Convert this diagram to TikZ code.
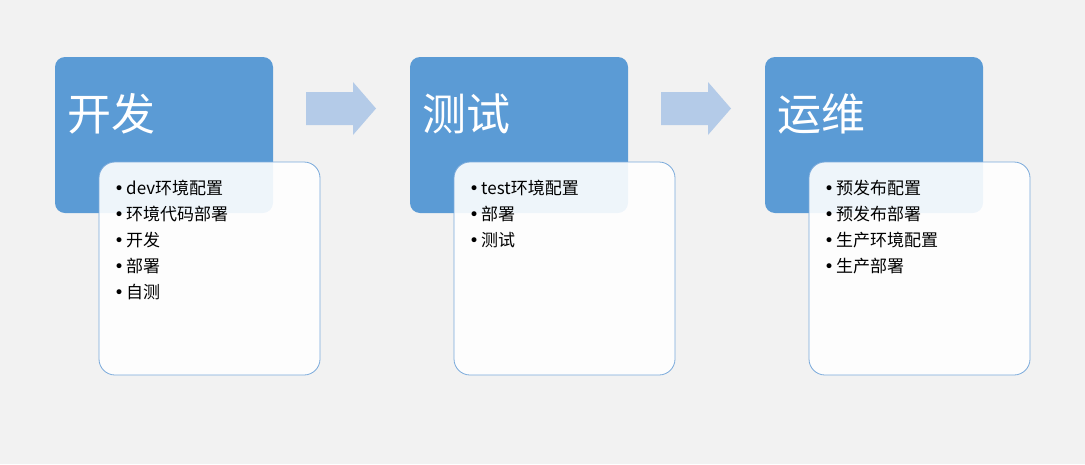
\documentclass[tikz,border=0pt]{standalone}
\usepackage{fontspec}
\setmainfont{Noto Sans CJK SC}
\newfontfamily\dvs{DejaVu Sans}
\newcommand{\bl}{{\dvs •}\hspace{2pt}}
\definecolor{bg}{HTML}{F2F2F2}
\definecolor{blu}{HTML}{5B9BD5}
\definecolor{arr}{HTML}{B4CBE8}
\definecolor{bord}{HTML}{7AAADB}
\begin{document}
\begin{tikzpicture}[x=1pt,y=-1pt,
  head/.style={fill=blu,rounded corners=10pt},
  card/.style={fill=white,fill opacity=0.9,draw=bord,line width=0.8pt,rounded corners=16pt},
  ttl/.style={anchor=west,text=white,font=\fontsize{44}{44}\selectfont},
  lst/.style={anchor=north west,align=left,font=\fontsize{17}{26}\selectfont,inner sep=0pt},
  arrw/.style={fill=arr}]
\fill[bg] (0,0) rectangle (1085,464);
\useasboundingbox (0,0) rectangle (1085,464);
\foreach \dx/\t in {0/开发,355/测试,710/运维}{
  \fill[head] (55+\dx,57) rectangle (273+\dx,213);
  \node[ttl] (t\dx) at (64+\dx,114) {\t};
}
\draw[card] (99,162) rectangle (320,375);
\draw[card] (454,162) rectangle (675,375);
\draw[card] (809,162) rectangle (1030,375);
\node[lst] (l1) at (114,180) {\bl dev环境配置\\\bl 环境代码部署\\\bl 开发\\\bl 部署\\\bl 自测};
\node[lst] (l2) at (469,180) {\bl test环境配置\\\bl 部署\\\bl 测试};
\node[lst] (l3) at (824,180) {\bl 预发布配置\\\bl 预发布部署\\\bl 生产环境配置\\\bl 生产部署};
\foreach \dx in {0,355}{
  \fill[arrw] (306+\dx,92) -- (353+\dx,92) -- (353+\dx,82) -- (376+\dx,108.5) -- (353+\dx,135) -- (353+\dx,125) -- (306+\dx,125) -- cycle;
}
\end{tikzpicture}
\end{document}
